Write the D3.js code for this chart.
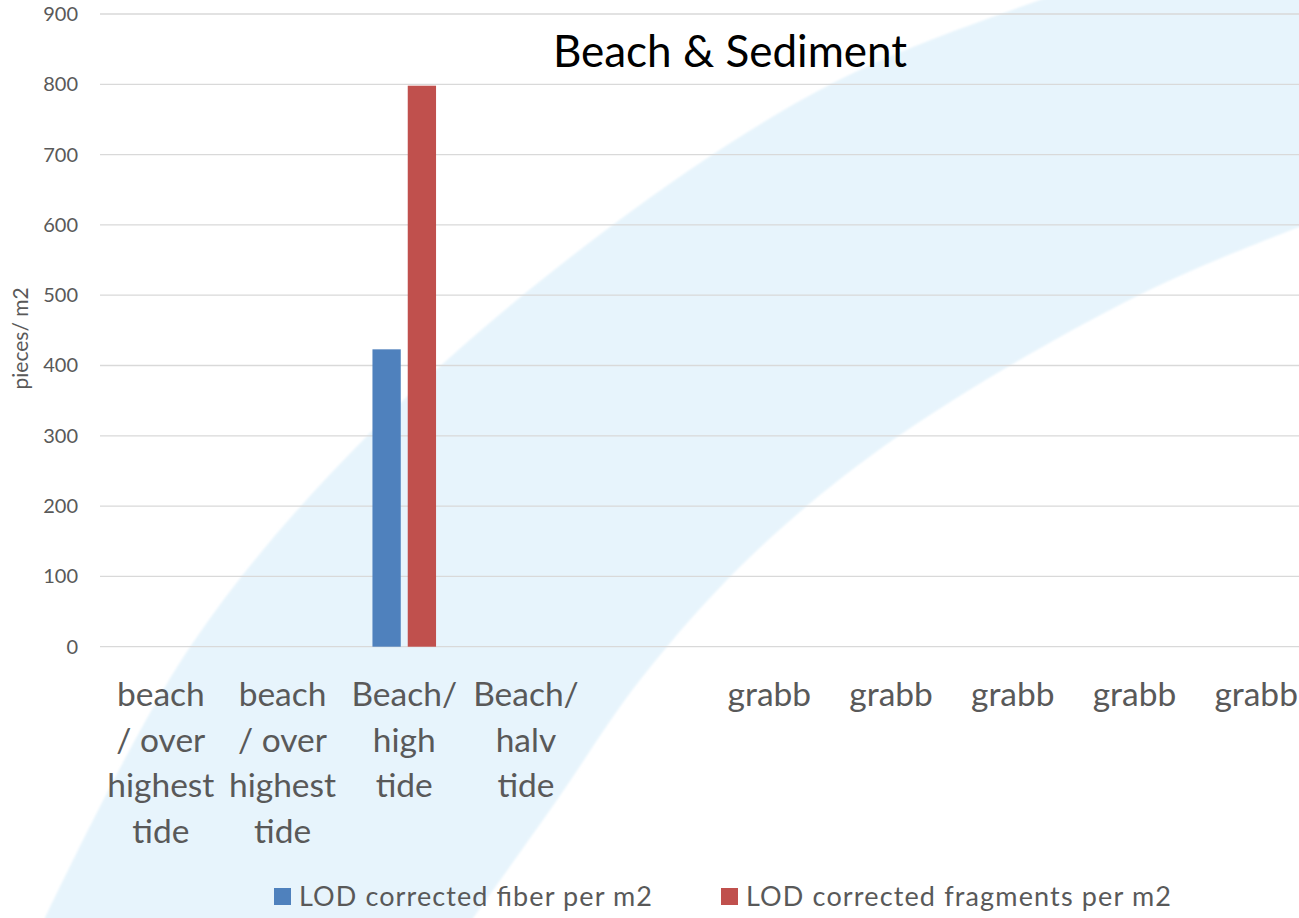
<!DOCTYPE html>
<html>
<head>
<meta charset="utf-8">
<script src="https://cdn.jsdelivr.net/npm/d3@7/dist/d3.min.js"></script>
<style>
  html, body { margin: 0; padding: 0; background: #ffffff; overflow: hidden; }
  svg { display: block; }
  text { font-family: Lato, "Open Sans", sans-serif; }
</style>
</head>
<body>
<svg id="chart" width="1299" height="918"></svg>
<script>
// Sampling sites (each entry holds the wrapped lines of its label)
const categories = [
  ["beach", "/ over", "highest", "tide"],
  ["beach", "/ over", "highest", "tide"],
  ["Beach/", "high", "tide"],
  ["Beach/", "halv", "tide"],
  [],
  ["grabb"],
  ["grabb"],
  ["grabb"],
  ["grabb"],
  ["grabb"]
];

const seriesNames = ["LOD corrected fiber per m2", "LOD corrected fragments per m2"];
const seriesColors = ["#4F81BD", "#C0504D"];

// Pieces per m2; null where no value was reported
const fiberValues     = [null, null, 423, null, null, null, null, null, null, null];
const fragmentValues  = [null, null, 798, null, null, null, null, null, null, null];

const yTicks = [0, 100, 200, 300, 400, 500, 600, 700, 800, 900];

const chartTitle = "Beach & Sediment";
const yAxisTitle = "pieces/ m2";

// ---------------------------------------------------------------
const svg = d3.select("#chart");
const plot = { left: 100, right: 1317, top: 14, bottom: 646.7 };

// Decorative light-blue swoosh behind the plot (two smooth edges, x ascending)
const swooshLeft  = [[45, 918], [190, 647], [370, 433], [610, 227], [833, 83], [1040, 0], [1100, -20]];
const swooshRight = [[473, 918], [557, 800], [640, 680], [750, 557], [897, 437], [1135, 297], [1299, 227], [1340, 212]];
const edge = d3.line().curve(d3.curveCatmullRom.alpha(0.5));

const defs = svg.append("defs");
defs.append("filter").attr("id", "soft")
  .attr("x", "-5%").attr("y", "-5%").attr("width", "110%").attr("height", "110%")
  .append("feGaussianBlur").attr("stdDeviation", 1.2);
defs.append("clipPath").attr("id", "rightClip")
  .append("path")
  .attr("d", edge(swooshRight) + "L1340,-30L0,-30L0,930L473,930Z");

svg.append("g").attr("filter", "url(#soft)")
  .append("path")
  .attr("d", edge(swooshLeft) + "L1340,-20L1340,930L45,930Z")
  .attr("fill", "#E7F4FC")
  .attr("clip-path", "url(#rightClip)");

// Scales
const x0 = d3.scaleBand()
  .domain(d3.range(categories.length))
  .range([plot.left, plot.right])
  .paddingInner(0).paddingOuter(0);

const groupWidth = x0.bandwidth() * 0.5225;
const x1 = d3.scaleBand()
  .domain(d3.range(seriesNames.length))
  .range([0, groupWidth])
  .paddingInner(0.198).paddingOuter(0);

const y = d3.scaleLinear().domain([0, 900]).range([plot.bottom, plot.top]);

// Gridlines
svg.append("g")
  .selectAll("line")
  .data(yTicks)
  .join("line")
  .attr("x1", plot.left).attr("x2", plot.right)
  .attr("y1", d => y(d)).attr("y2", d => y(d))
  .attr("stroke", "#D9D9D9").attr("stroke-width", 1.3);

// Y axis labels
const yAxis = d3.axisLeft(y).tickValues(yTicks).tickSize(0).tickPadding(0);
const yG = svg.append("g")
  .attr("transform", `translate(${plot.left - 22},0)`)
  .call(yAxis);
yG.select(".domain").remove();
yG.selectAll("text")
  .attr("fill", "#595959")
  .style("font-size", "20px")
  .style("font-family", "Lato, sans-serif");

// Y axis title
svg.append("text")
  .attr("transform", `translate(28,${(plot.top + plot.bottom) / 2 + 8}) rotate(-90)`)
  .attr("text-anchor", "middle")
  .attr("fill", "#595959")
  .style("font-size", "21px")
  .text(yAxisTitle);

// Bars
const seriesValues = [fiberValues, fragmentValues];
const barData = [];
categories.forEach((c, i) => {
  seriesValues.forEach((vals, s) => {
    if (vals[i] != null) barData.push({ i, s, v: vals[i] });
  });
});

svg.append("g")
  .selectAll("rect")
  .data(barData)
  .join("rect")
  .attr("x", d => x0(d.i) + (x0.bandwidth() - groupWidth) / 2 + x1(d.s))
  .attr("width", x1.bandwidth())
  .attr("y", d => y(d.v))
  .attr("height", d => y(0) - y(d.v))
  .attr("fill", d => seriesColors[d.s]);

// Category labels
const lineGap = 45.6;
const catG = svg.append("g");
categories.forEach((lines, i) => {
  const cx = x0(i) + x0.bandwidth() / 2;
  const t = catG.append("text")
    .attr("text-anchor", "middle")
    .attr("fill", "#595959")
    .style("font-size", "33.5px");
  lines.forEach((ln, k) => {
    t.append("tspan")
      .attr("x", cx)
      .attr("y", 706 + k * lineGap)
      .text(ln);
  });
});

// Title
svg.append("text")
  .attr("x", 730)
  .attr("y", 66.7)
  .attr("text-anchor", "middle")
  .attr("fill", "#000000")
  .style("font-size", "44px")
  .text(chartTitle);

// Legend
const legendX = [274, 721];
const legendTextW = [353, 425];
const legend = svg.append("g");
seriesNames.forEach((name, s) => {
  const g = legend.append("g").attr("transform", `translate(${legendX[s]},888)`);
  g.append("rect").attr("width", 17).attr("height", 17).attr("fill", seriesColors[s]);
  g.append("text")
    .attr("x", 25).attr("y", 18)
    .attr("fill", "#595959")
    .style("font-size", "27px")
    .attr("textLength", legendTextW[s])
    .attr("lengthAdjust", "spacing")
    .text(name);
});
</script>
</body>
</html>
